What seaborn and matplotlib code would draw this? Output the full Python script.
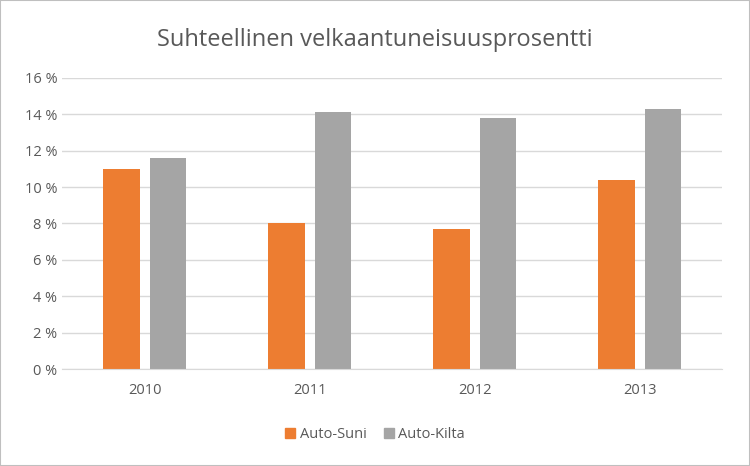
import matplotlib
matplotlib.use("Agg")
import matplotlib.pyplot as plt
import pandas as pd
import seaborn as sns
from matplotlib.patches import Rectangle

years = ["2010", "2011", "2012", "2013"]
auto_suni = [11.0, 8.0, 7.7, 10.4]
auto_kilta = [11.6, 14.1, 13.8, 14.3]

df = pd.DataFrame({
    "year": years * 2,
    "value": auto_suni + auto_kilta,
    "series": ["Auto-Suni"] * 4 + ["Auto-Kilta"] * 4,
})

plt.rcParams["font.family"] = "Open Sans"
fig = plt.figure(figsize=(7.5, 4.66), dpi=100)
fig.patches.append(Rectangle((0, 0), 1, 1, transform=fig.transFigure,
                             fill=False, edgecolor="#bfbfbf", lw=1.5))
ax = fig.add_axes([0.083, 0.208, 0.88, 0.625])
sns.barplot(data=df, x="year", y="value", hue="series",
            palette=["#ed7d31", "#a5a5a5"], width=0.56, gap=0.21,
            saturation=1, ax=ax, legend=False)

ax.set_ylim(0, 16)
ax.set_yticks(range(0, 17, 2))
ax.set_yticklabels([f"{v} %" for v in range(0, 17, 2)])
ax.yaxis.grid(True, color="#d9d9d9", lw=1)
ax.set_axisbelow(True)
for s in ["top", "right", "left"]:
    ax.spines[s].set_visible(False)
ax.spines["bottom"].set_color("#d9d9d9")
ax.tick_params(length=0, colors="#595959", labelsize=10.5)
ax.tick_params(axis="x", pad=10)
ax.set_xlabel("")
ax.set_ylabel("")

fig.text(0.5, 0.915, "Suhteellinen velkaantuneisuusprosentti",
         ha="center", va="center", fontsize=17, color="#595959")

handles = [Rectangle((0, 0), 1, 1, color="#ed7d31"),
           Rectangle((0, 0), 1, 1, color="#a5a5a5")]
fig.legend(handles, ["Auto-Suni", "Auto-Kilta"], loc="center",
           bbox_to_anchor=(0.5, 0.067), ncol=2, frameon=False,
           handlelength=0.7, handleheight=0.7, handletextpad=0.3,
           columnspacing=1.2, labelcolor="#595959", fontsize=10.5)

fig.savefig("out.png", dpi=100)
